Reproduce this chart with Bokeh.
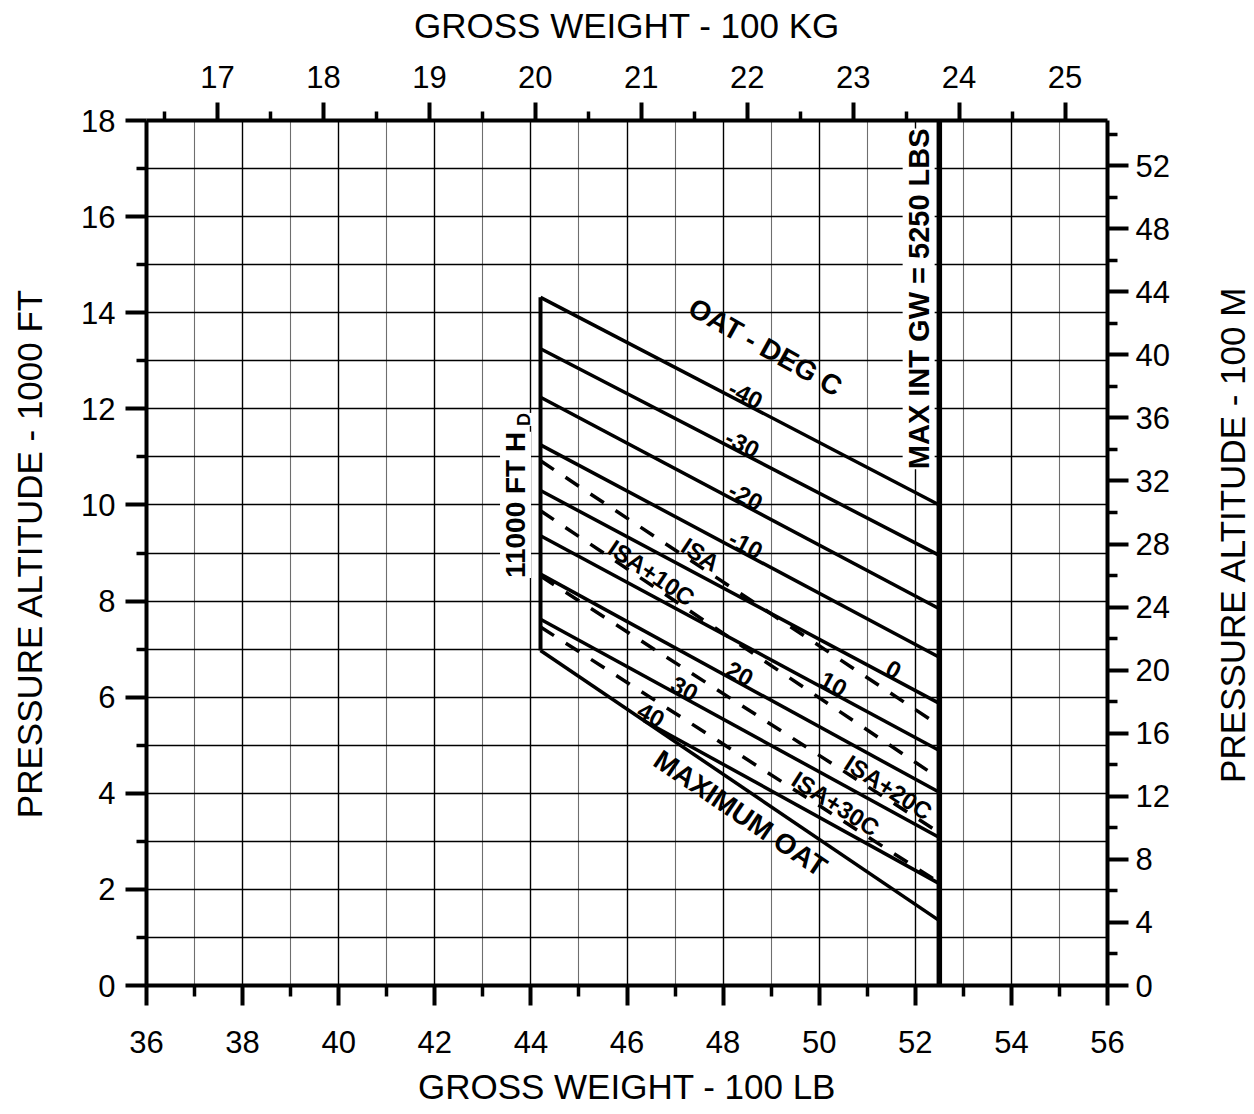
import math
from bokeh.plotting import figure
from bokeh.layouts import row
from bokeh.models import LinearAxis, Range1d, FixedTicker, Grid, Label, ColumnDataSource
from bokeh.core.properties import value
from bokeh.embed import file_html
from bokeh.resources import INLINE

# ---------------- data ----------------
lb_ticks = [36, 38, 40, 42, 44, 46, 48, 50, 52, 54, 56]
lb_minor = [37, 39, 41, 43, 45, 47, 49, 51, 53, 55]
kg_ticks = [17, 18, 19, 20, 21, 22, 23, 24, 25]
kg_minor = [16.5, 17.5, 18.5, 19.5, 20.5, 21.5, 22.5, 23.5, 24.5]
ft_ticks = [0, 2, 4, 6, 8, 10, 12, 14, 16, 18]
ft_minor = [1, 3, 5, 7, 9, 11, 13, 15, 17]
m_ticks = [0, 4, 8, 12, 16, 20, 24, 28, 32, 36, 40, 44, 48, 52]
m_minor = [2, 6, 10, 14, 18, 22, 26, 30, 34, 38, 42, 46, 50, 54]

gw_left = 44.2      # 11000 ft Hd boundary (100 lb)
gw_max = 52.5       # max internal gross weight (100 lb)

oat_labels = ["-40", "-30", "-20", "-10", "0", "10", "20", "30", "40"]
oat_alt_left = [14.32, 13.25, 12.24, 11.25, 10.30, 9.36, 8.56, 7.62, 6.70]
oat_alt_right = [10.00, 8.95, 7.84, 6.83, 5.87, 4.89, 4.02, 3.08, 2.12]

isa_labels = ["ISA", "ISA+10C", "ISA+20C", "ISA+30C"]
isa_alt_left = [10.92, 9.88, 8.52, 7.46]
isa_alt_right = [5.41, 4.31, 3.18, 2.14]

maxoat_alt_left = 6.97
maxoat_alt_right = 1.35

# ---------------- layout constants ----------------
FW, FH = 961, 865
X0, X1, Y0, Y1 = 36, 56, 0, 18
pxx = FW / (X1 - X0)
pxy = FH / (Y1 - Y0)
FONT = "Liberation Sans"
TOTAL_H = 1110
SIDE_W = 43

oat_label_gw = [48.47, 48.40, 48.47, 48.47, 51.55, 50.30, 48.35, 47.20, 46.50]
isa_label_gw = [47.53, 46.51, 51.44, 50.34]

span = gw_max - gw_left


def alt_at(a0, a1, w):
    return a0 + (a1 - a0) * (w - gw_left) / span


def screen_angle(a0, a1):
    return -math.atan(((a0 - a1) * pxy) / (span * pxx))


p = figure(frame_width=FW, frame_height=FH,
           x_range=Range1d(X0, X1), y_range=Range1d(Y0, Y1),
           min_border_left=146, min_border_right=104,
           min_border_top=120, min_border_bottom=TOTAL_H - 120 - FH,
           toolbar_location=None, output_backend="svg")
p.outline_line_color = None
p.background_fill_color = "white"
p.border_fill_color = "white"
p.grid.visible = False

p.extra_x_ranges = {"kg": Range1d(X0 * 0.45359237, X1 * 0.45359237)}
p.extra_y_ranges = {"m": Range1d(Y0 * 3.048, Y1 * 3.048)}

# grids
inner_even = [t for t in lb_ticks if X0 < t < X1]
inner_odd = [t for t in lb_minor if X0 < t < X1]
g1 = Grid(dimension=0, ticker=FixedTicker(ticks=inner_odd), grid_line_color="#6e6e6e",
          grid_line_width=1.1, level="underlay")
g2 = Grid(dimension=0, ticker=FixedTicker(ticks=inner_even), grid_line_color="black",
          grid_line_width=1.4, level="underlay")
g3 = Grid(dimension=1, ticker=FixedTicker(ticks=sorted(ft_ticks[1:-1] + ft_minor)),
          grid_line_color="black", grid_line_width=1.3, level="underlay")
for g in (g1, g2, g3):
    p.add_layout(g)


def style_axis(ax, tick_out, minor_out, standoff, title_standoff):
    ax.axis_line_width = 4
    ax.axis_line_color = "black"
    ax.major_tick_line_width = 4
    ax.minor_tick_line_width = 3.5
    ax.major_tick_in = 0
    ax.minor_tick_in = 0
    ax.major_tick_out = tick_out
    ax.minor_tick_out = minor_out
    ax.major_label_text_font = FONT
    ax.major_label_text_font_size = "31px"
    ax.major_label_text_color = "black"
    ax.major_label_standoff = standoff
    ax.axis_label_text_font = FONT
    ax.axis_label_text_font_size = "35px"
    ax.axis_label_text_font_style = "normal"
    ax.axis_label_text_color = "black"
    ax.axis_label_standoff = title_standoff


xb = p.xaxis[0]
xb.ticker = FixedTicker(ticks=lb_ticks, minor_ticks=lb_minor)
xb.axis_label = "GROSS WEIGHT - 100 LB"
style_axis(xb, 20, 11, 25, 11)

yl = p.yaxis[0]
yl.ticker = FixedTicker(ticks=ft_ticks, minor_ticks=ft_minor)
yl.axis_label = "PRESSURE ALTITUDE - 1000 FT"
style_axis(yl, 21, 10, 10, 29)

xt = LinearAxis(x_range_name="kg", axis_label="GROSS WEIGHT - 100 KG",
                ticker=FixedTicker(ticks=kg_ticks, minor_ticks=kg_minor))
style_axis(xt, 18, 9, 15, 18)
p.add_layout(xt, "above")

yr = LinearAxis(y_range_name="m",
                ticker=FixedTicker(ticks=m_ticks, minor_ticks=m_minor))
style_axis(yr, 21, 10, 7, 0)
p.add_layout(yr, "right")

# ---------------- chart lines ----------------
p.line([gw_left, gw_max], [maxoat_alt_left, maxoat_alt_right], line_color="black", line_width=3.5)

oat_xs, oat_ys = [], []
for a0, a1 in zip(oat_alt_left, oat_alt_right):
    w0 = gw_left
    if maxoat_alt_left > a0:
        t = (maxoat_alt_left - a0) / ((a1 - a0) - (maxoat_alt_right - maxoat_alt_left))
        w0 = gw_left + t * span
    oat_xs.append([w0, gw_max])
    oat_ys.append([alt_at(a0, a1, w0), a1])
p.multi_line(oat_xs, oat_ys, line_color="black", line_width=3.5)

isa_xs = [[gw_left, gw_max] for _ in isa_labels]
isa_ys = [[a0, a1] for a0, a1 in zip(isa_alt_left, isa_alt_right)]
p.multi_line(isa_xs, isa_ys, line_color="black", line_width=3.5, line_dash="16 14")

# boundaries
p.line([gw_left, gw_left], [maxoat_alt_left, oat_alt_left[0]], line_color="black", line_width=4)
p.line([gw_max, gw_max], [Y0, Y1], line_color="black", line_width=5.5)

# ---------------- labels ----------------
oat_src = ColumnDataSource(dict(
    x=oat_label_gw,
    y=[alt_at(a0, a1, w) + 0.2 for a0, a1, w in zip(oat_alt_left, oat_alt_right, oat_label_gw)],
    text=oat_labels,
    angle=[screen_angle(a0, a1) for a0, a1 in zip(oat_alt_left, oat_alt_right)],
))
p.text(x="x", y="y", text="text", angle="angle", source=oat_src,
       text_font=value(FONT), text_font_style="bold", text_font_size="24px",
       text_align="center", text_baseline="middle", text_color="black")

isa_src = ColumnDataSource(dict(
    x=isa_label_gw,
    y=[alt_at(a0, a1, w) + 0.26 for a0, a1, w in zip(isa_alt_left, isa_alt_right, isa_label_gw)],
    text=isa_labels,
    angle=[screen_angle(a0, a1) for a0, a1 in zip(isa_alt_left, isa_alt_right)],
))
p.text(x="x", y="y", text="text", angle="angle", source=isa_src,
       text_font=value(FONT), text_font_style="bold", text_font_size="24px",
       text_align="center", text_baseline="middle", text_color="black")

mo_w = 48.36
mo_src = ColumnDataSource(dict(
    x=[mo_w], y=[alt_at(maxoat_alt_left, maxoat_alt_right, mo_w) - 0.57],
    text=["MAXIMUM OAT"], angle=[screen_angle(maxoat_alt_left, maxoat_alt_right)]))
p.text(x="x", y="y", text="text", angle="angle", source=mo_src,
       text_font=value(FONT), text_font_style="bold", text_font_size="28px",
       text_align="center", text_baseline="middle", text_color="black")

hdr_w = 48.88
hdr_src = ColumnDataSource(dict(
    x=[hdr_w], y=[alt_at(oat_alt_left[0], oat_alt_right[0], hdr_w) + 1.4],
    text=["OAT - DEG C"], angle=[-0.51]))
p.text(x="x", y="y", text="text", angle="angle", source=hdr_src,
       text_font=value(FONT), text_font_style="bold", text_font_size="28px",
       text_align="center", text_baseline="middle", text_color="black")

p.add_layout(Label(x=gw_max - 0.43, y=14.29, text="MAX INT GW = 5250 LBS",
                   angle=math.pi / 2, text_align="center", text_baseline="middle",
                   text_font=FONT, text_font_style="bold", text_font_size="29px",
                   text_color="black", background_fill_color="white"))
p.add_layout(Label(x=gw_left - 0.52, y=10.0, text="11000 FT H",
                   angle=math.pi / 2, text_align="center", text_baseline="middle",
                   text_font=FONT, text_font_style="bold", text_font_size="28px",
                   text_color="black", background_fill_color="white"))
p.add_layout(Label(x=gw_left - 0.35, y=11.78, text="D",
                   angle=math.pi / 2, text_align="center", text_baseline="middle",
                   text_font=FONT, text_font_style="bold", text_font_size="18px",
                   text_color="black", background_fill_color="white"))

# ---------------- right-hand title strip (reads bottom to top) ----------------
p2 = figure(width=SIDE_W, height=TOTAL_H, x_range=Range1d(0, SIDE_W), y_range=Range1d(0, TOTAL_H),
            min_border=0, toolbar_location=None, output_backend="svg",
            x_axis_location=None, y_axis_location=None)
p2.outline_line_color = None
p2.grid.visible = False
p2.border_fill_color = "white"
p2.text(x=[21], y=[TOTAL_H - 531], text=["PRESSURE ALTITUDE - 100 M"], angle=[math.pi / 2],
        text_font=value(FONT), text_font_size="35px", text_align="center",
        text_baseline="middle", text_color="black")

layout = row(p, p2, spacing=0)
open("out.html", "w").write(file_html(layout, INLINE))
